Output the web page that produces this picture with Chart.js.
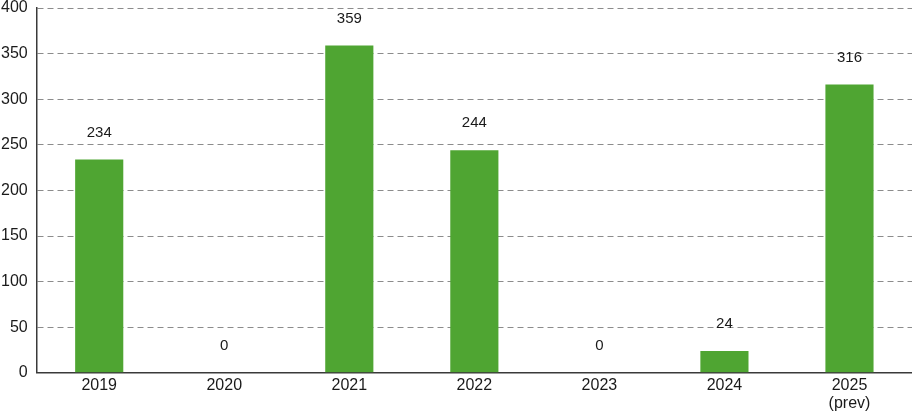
<!DOCTYPE html>
<html lang="en">
<head>
    <meta charset="UTF-8">
    <title>Bar chart 2019-2025</title>
    <script src="https://cdn.jsdelivr.net/npm/chart.js@4.4.1/dist/chart.umd.min.js"></script>
    <style>
        html, body { margin: 0; padding: 0; background: #ffffff; }
        .chart-container { position: relative; width: 912px; height: 414px; }
    </style>
</head>
<body>
    <div class="chart-container">
        <canvas id="barChart"></canvas>
    </div>

    <script>
        // --- Data ---
        const categories = ['2019', '2020', '2021', '2022', '2023', '2024', ['2025', '(prev)']];
        const values = [234, 0, 359, 244, 0, 24, 316];
        const yTicks = [0, 50, 100, 150, 200, 250, 300, 350, 400];

        const barGreen = '#4fa532';
        const textColor = '#1a1a1a';
        const fontFamily = '"Liberation Sans", Arial, Helvetica, sans-serif';

        // value labels drawn above each bar
        const valueLabels = {
            id: 'valueLabels',
            afterDatasetsDraw(chart) {
                const ctx = chart.ctx;
                const meta = chart.getDatasetMeta(0);
                ctx.save();
                ctx.font = '15px ' + fontFamily;
                ctx.fillStyle = textColor;
                ctx.textAlign = 'center';
                ctx.textBaseline = 'middle';
                meta.data.forEach((bar, i) => {
                    ctx.fillText(String(values[i]), bar.x, bar.y - 27);
                });
                ctx.restore();
            }
        };

        const ctx = document.getElementById('barChart').getContext('2d');
        new Chart(ctx, {
            type: 'bar',
            data: {
                labels: categories,
                datasets: [{
                    data: values,
                    backgroundColor: barGreen,
                    borderWidth: 0,
                    barPercentage: 0.77,
                    categoryPercentage: 0.5
                }]
            },
            options: {
                responsive: true,
                maintainAspectRatio: false,
                animation: false,
                layout: { padding: { top: 8, right: 0, bottom: -2, left: -8 } },
                scales: {
                    x: {
                        grid: { display: false, drawTicks: false },
                        border: { display: true, color: '#3a3a3a', width: 1.5 },
                        ticks: {
                            color: textColor,
                            font: { family: fontFamily, size: 16, lineHeight: 1.1 },
                            padding: 4,
                            maxRotation: 0
                        }
                    },
                    y: {
                        min: 0,
                        max: 400,
                        afterBuildTicks: axis => { axis.ticks = yTicks.map(v => ({ value: v })); },
                        afterFit: axis => { axis.paddingTop = 0; },
                        grid: { color: '#8c8c8c', lineWidth: 1, drawTicks: false },
                        border: { display: true, color: '#3a3a3a', width: 1.5, dash: [6, 4] },
                        ticks: {
                            color: textColor,
                            font: { family: fontFamily, size: 16 },
                            padding: 9
                        }
                    }
                },
                plugins: {
                    legend: { display: false },
                    tooltip: { enabled: false }
                }
            },
            plugins: [valueLabels]
        });
    </script>
</body>
</html>
